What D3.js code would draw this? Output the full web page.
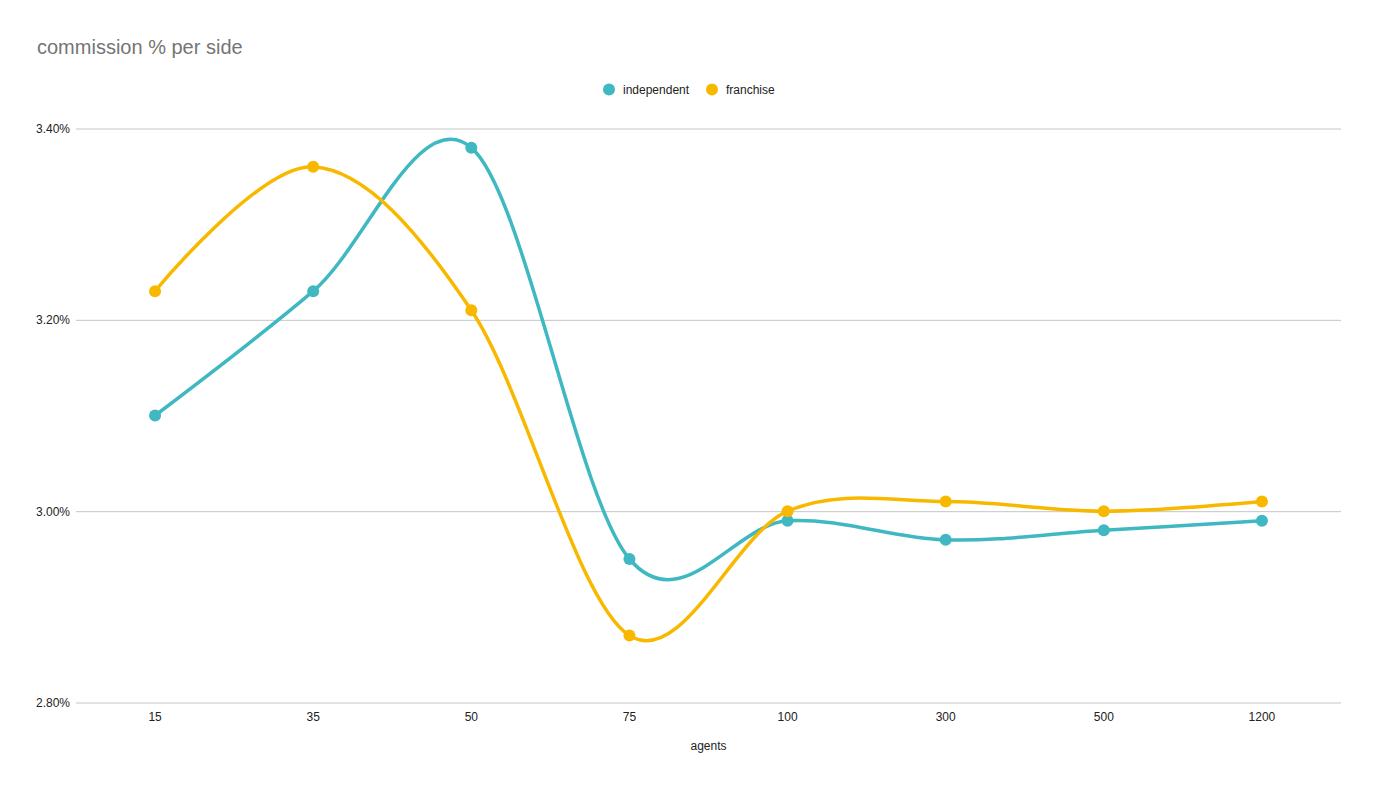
<!DOCTYPE html>
<html>
<head>
<meta charset="utf-8">
<script src="https://cdn.jsdelivr.net/npm/d3@7"></script>
<style>
  body { margin: 0; background: #fff; }
  svg { font-family: Arial, "Liberation Sans", sans-serif; }
</style>
</head>
<body>
<div id="chart"></div>
<script>
// data
var agents = ["15", "35", "50", "75", "100", "300", "500", "1200"];
var independent = [3.10, 3.23, 3.38, 2.95, 2.99, 2.97, 2.98, 2.99];
var franchise = [3.23, 3.36, 3.21, 2.87, 3.00, 3.01, 3.00, 3.01];
var yTicks = [2.80, 3.00, 3.20, 3.40];

var series = [
    { name: "independent", values: independent, color: "#3fb8c2" },
    { name: "franchise", values: franchise, color: "#f9b800" }
];

var svgWidth = 1378;
var svgHeight = 788;

// plot area
var margin = { top: 128.5, right: 37, bottom: 85.5, left: 76 };
var width = svgWidth - margin.left - margin.right;
var height = svgHeight - margin.top - margin.bottom;

var svg = d3.select("#chart")
    .append("svg")
    .attr("width", svgWidth)
    .attr("height", svgHeight);

svg.append("text")
    .attr("x", 37)
    .attr("y", 54)
    .attr("fill", "#757575")
    .style("font-size", "20px")
    .text("commission % per side");

var chartGroup = svg.append("g")
    .attr("transform", `translate(${margin.left}, ${margin.top})`);

var xScale = d3.scaleBand()
    .domain(agents)
    .range([0, width]);

var yScale = d3.scaleLinear()
    .domain([2.80, 3.40])
    .range([height, 0]);

// gridlines
var leftAxis = d3.axisLeft(yScale)
    .tickValues(yTicks)
    .tickSize(-width)
    .tickPadding(6)
    .tickFormat(d => d.toFixed(2) + "%");

var yAxis = chartGroup.append("g").call(leftAxis);
yAxis.select(".domain").remove();
yAxis.selectAll("line").attr("stroke", "#c6c6c6");
yAxis.selectAll("text")
    .attr("fill", "#222")
    .style("font-size", "12px");

var bottomAxis = d3.axisBottom(xScale)
    .tickSize(0)
    .tickPadding(10);

var xAxis = chartGroup.append("g")
    .attr("transform", `translate(0, ${height})`)
    .call(bottomAxis);
xAxis.select(".domain").remove();
xAxis.selectAll("text")
    .attr("fill", "#222")
    .style("font-size", "12px");

chartGroup.append("text")
    .attr("x", width / 2)
    .attr("y", height + 47)
    .attr("text-anchor", "middle")
    .attr("fill", "#222")
    .style("font-size", "12px")
    .text("agents");

var line = d3.line()
    .x((d, i) => xScale(agents[i]) + xScale.bandwidth() / 2)
    .y(d => yScale(d))
    .curve(d3.curveCardinal.tension(0));

series.forEach(function(s) {
    chartGroup.append("path")
        .datum(s.values)
        .attr("fill", "none")
        .attr("stroke", s.color)
        .attr("stroke-width", 3.5)
        .attr("d", line);
});

series.forEach(function(s) {
    chartGroup.selectAll(".pt-" + s.name)
        .data(s.values)
        .enter()
        .append("circle")
        .attr("class", "pt-" + s.name)
        .attr("cx", (d, i) => xScale(agents[i]) + xScale.bandwidth() / 2)
        .attr("cy", d => yScale(d))
        .attr("r", 6)
        .attr("fill", s.color);
});

// legend
var legendPos = [609, 712];
var legend = svg.append("g");
series.forEach(function(s, i) {
    legend.append("circle")
        .attr("cx", legendPos[i])
        .attr("cy", 89.5)
        .attr("r", 6)
        .attr("fill", s.color);
    legend.append("text")
        .attr("x", legendPos[i] + 14)
        .attr("y", 93.5)
        .attr("fill", "#222")
        .style("font-size", "12px")
        .text(s.name);
});
</script>
</body>
</html>
